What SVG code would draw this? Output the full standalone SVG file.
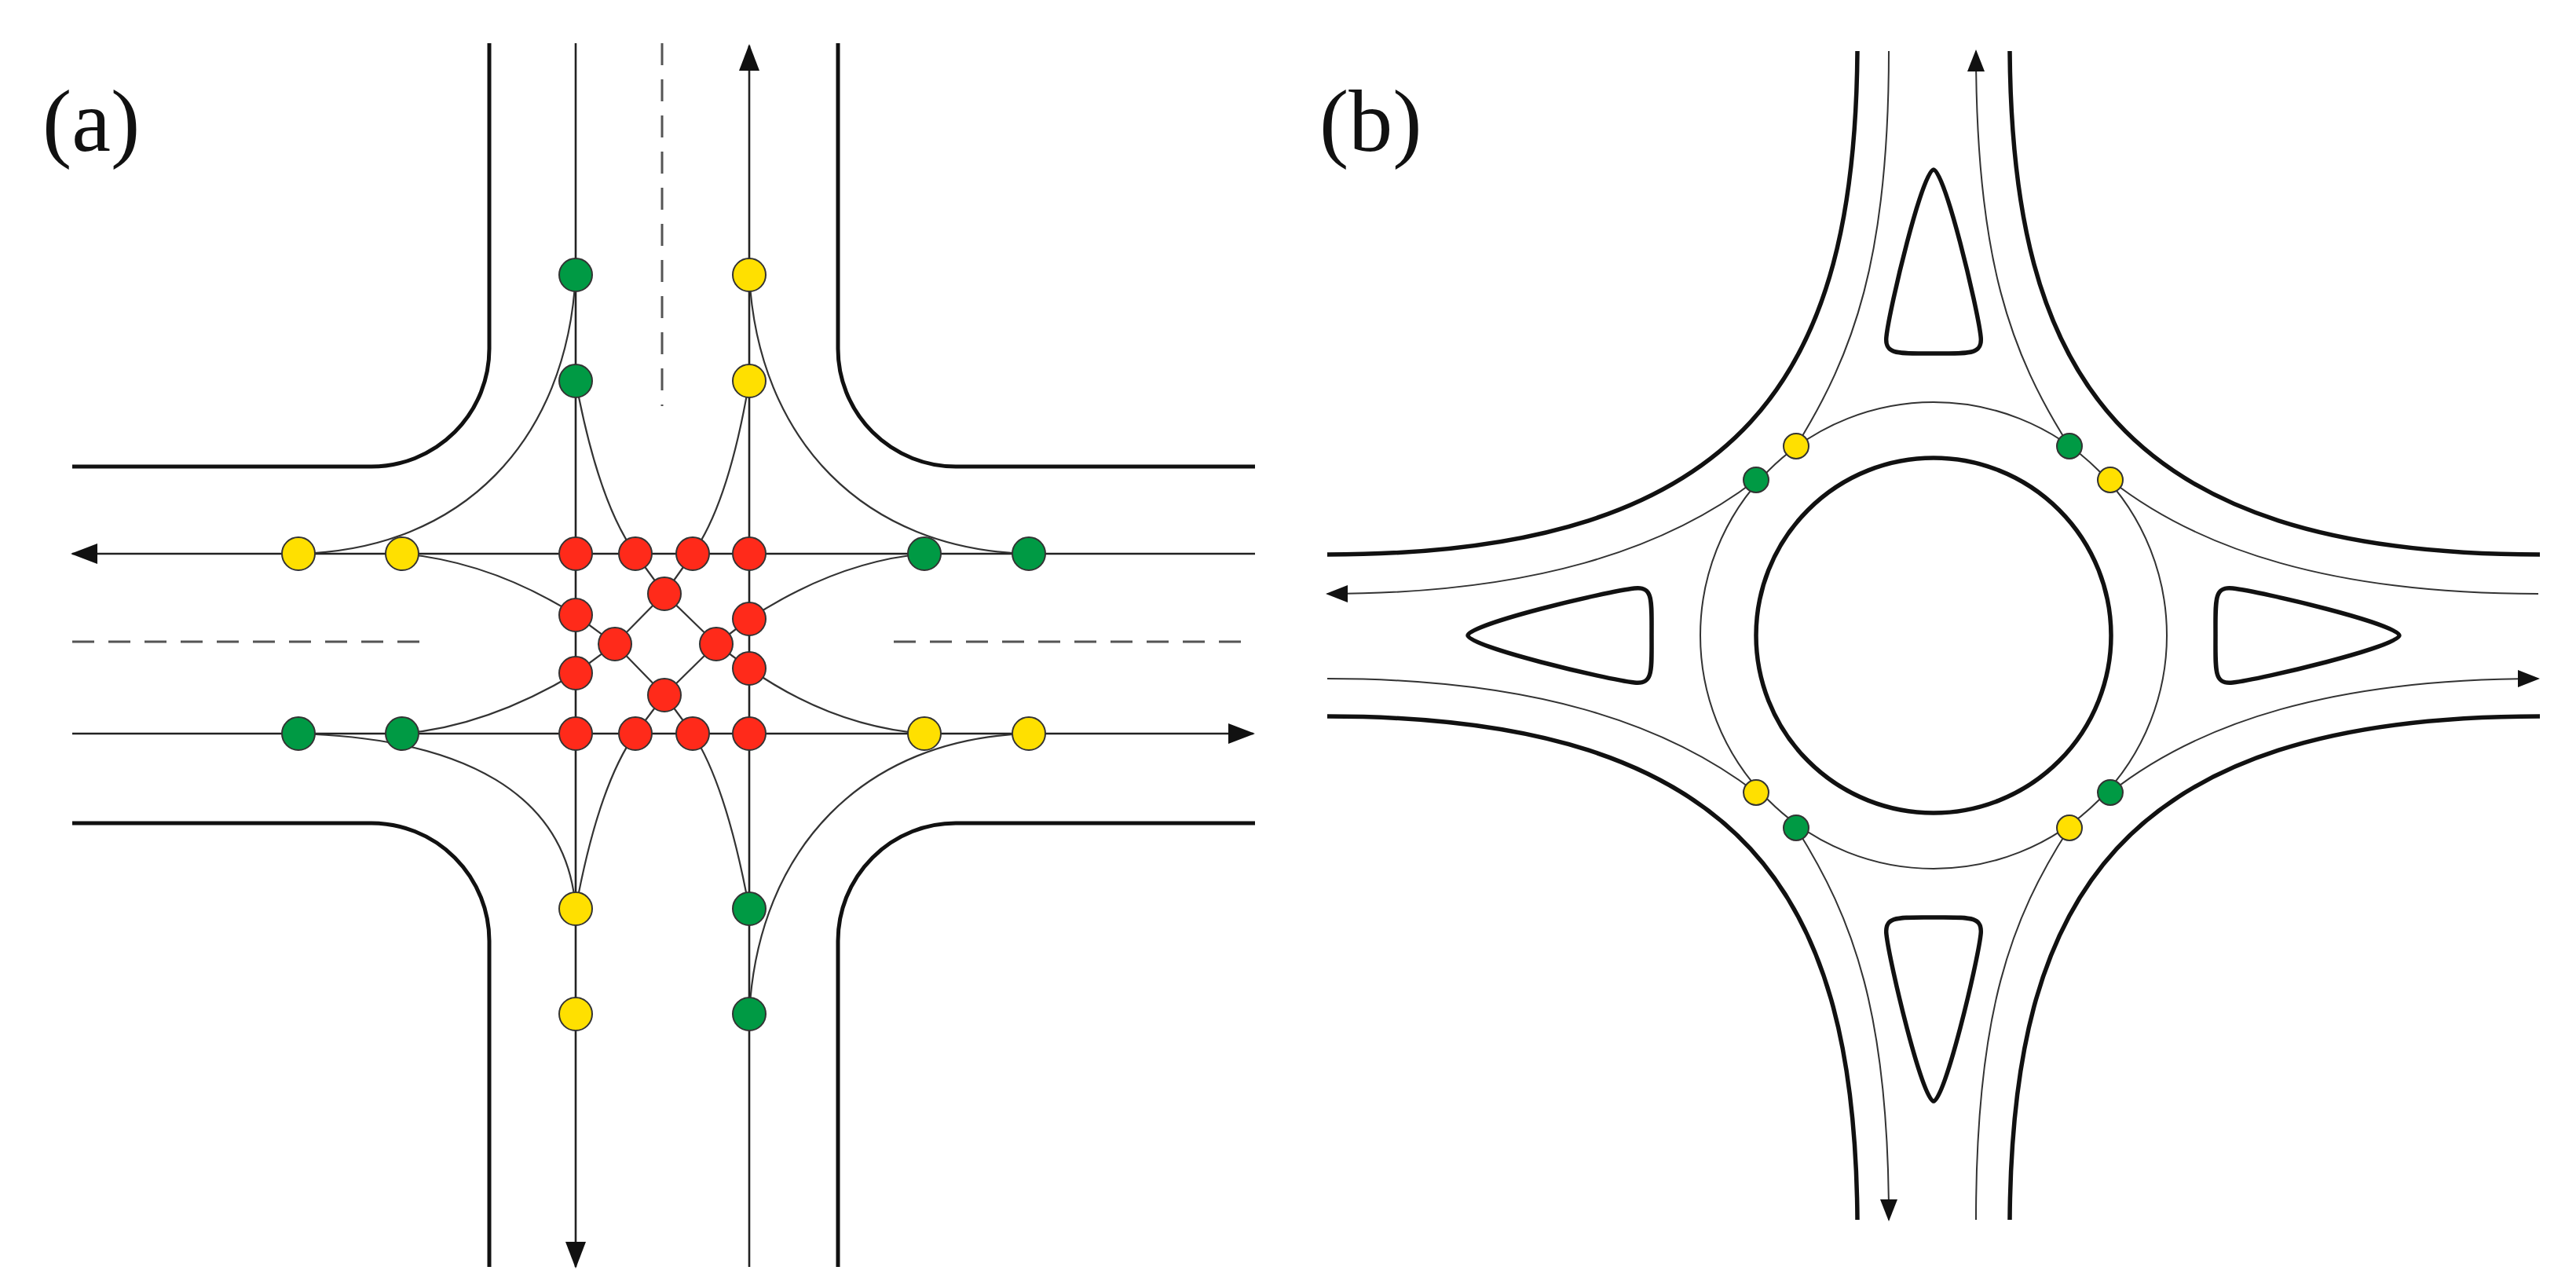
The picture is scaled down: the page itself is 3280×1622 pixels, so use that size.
<svg xmlns="http://www.w3.org/2000/svg" xmlns:xlink="http://www.w3.org/1999/xlink" width="3280" height="1622" viewBox="0 0 3280 1622">
<style>
.road{fill:none;stroke:#111;stroke-width:5}
.lane{fill:none;stroke:#222;stroke-width:2.6}
.turn{fill:none;stroke:#333;stroke-width:2.2}
.dash{fill:none;stroke:#555;stroke-width:3;stroke-dasharray:28 18}
.rroad{fill:none;stroke:#111;stroke-width:5.5}
.rlane{fill:none;stroke:#333;stroke-width:2}
.g{fill:#009a44;stroke:#333;stroke-width:2}
.y{fill:#ffe000;stroke:#333;stroke-width:2}
.r{fill:#ff2a1a;stroke:#333;stroke-width:2}
.lbl{font-family:"Liberation Serif",serif;font-size:112px;fill:#111}
</style>
<defs>
<marker id="ar" markerUnits="userSpaceOnUse" markerWidth="34" markerHeight="26" refX="32" refY="13" orient="auto"><path d="M0,0 L34,13 L0,26 Z" fill="#111"/></marker>
<marker id="ar2" markerUnits="userSpaceOnUse" markerWidth="28" markerHeight="22" refX="26" refY="11" orient="auto"><path d="M0,0 L28,11 L0,22 Z" fill="#111"/></marker>
<path id="island" class="rroad" d="M2462,216 C2476,216 2518,392 2522,428 C2525,452 2508,450 2462,450 C2416,450 2399,452 2402,428 C2406,392 2448,216 2462,216 Z"/>
<path id="qb" class="rroad" d="M2365,65 C2362,470 2230,706 1690,706"/>
</defs>
<rect width="3280" height="1622" fill="#fff"/>
<text class="lbl" x="54" y="192">(a)</text>
<text class="lbl" x="1680" y="192">(b)</text>
<g id="roads-a">
<path class="road" d="M623,55 V444 A150,150 0 0 1 473,594 H92"/>
<path class="road" d="M1067,55 V444 A150,150 0 0 0 1217,594 H1598"/>
<path class="road" d="M92,1048 H473 A150,150 0 0 1 623,1198 V1613"/>
<path class="road" d="M1598,1048 H1217 A150,150 0 0 0 1067,1198 V1613"/>
<path class="dash" d="M843,55 V517"/>
<path class="dash" d="M92,817 H549"/>
<path class="dash" d="M1138,817 H1598"/>
</g>
<g id="connectors-a">
<path class="lane" d="M733,55 V1613" marker-end="url(#ar)"/>
<path class="lane" d="M954,1613 V58" marker-end="url(#ar)"/>
<path class="lane" d="M1598,705 H92" marker-end="url(#ar)"/>
<path class="lane" d="M92,934 H1596" marker-end="url(#ar)"/>
<path class="turn" d="M733,485 Q762,640 809,705 L846,756 L912,820 L954,851 Q1060,925 1177,934"/>
<path class="turn" d="M512,934 Q620,925 733,857 L783,820 L846,756 L882,705 Q928,640 954,485"/>
<path class="turn" d="M954,1157 Q925,1000 882,934 L846,885 L783,820 L733,783 Q625,715 512,705"/>
<path class="turn" d="M1177,705 Q1065,715 954,788 L912,820 L846,885 L809,934 Q762,1000 733,1157"/>
<path class="turn" d="M733,350 C722,560 590,700 380,705"/>
<path class="turn" d="M380,934 C590,940 722,1010 733,1157"/>
<path class="turn" d="M954,1291 C965,1080 1100,940 1310,934"/>
<path class="turn" d="M1310,705 C1100,700 965,560 954,350"/>
</g>
<g id="nodes-a">
<circle class="g" cx="733" cy="350" r="21"/><circle class="g" cx="733" cy="485" r="21"/>
<circle class="y" cx="954" cy="350" r="21"/><circle class="y" cx="954" cy="485" r="21"/>
<circle class="y" cx="380" cy="705" r="21"/><circle class="y" cx="512" cy="705" r="21"/>
<circle class="g" cx="1177" cy="705" r="21"/><circle class="g" cx="1310" cy="705" r="21"/>
<circle class="g" cx="380" cy="934" r="21"/><circle class="g" cx="512" cy="934" r="21"/>
<circle class="y" cx="1177" cy="934" r="21"/><circle class="y" cx="1310" cy="934" r="21"/>
<circle class="y" cx="733" cy="1157" r="21"/><circle class="y" cx="733" cy="1291" r="21"/>
<circle class="g" cx="954" cy="1157" r="21"/><circle class="g" cx="954" cy="1291" r="21"/>
<circle class="r" cx="733" cy="705" r="21"/><circle class="r" cx="809" cy="705" r="21"/>
<circle class="r" cx="882" cy="705" r="21"/><circle class="r" cx="954" cy="705" r="21"/>
<circle class="r" cx="733" cy="934" r="21"/><circle class="r" cx="809" cy="934" r="21"/>
<circle class="r" cx="882" cy="934" r="21"/><circle class="r" cx="954" cy="934" r="21"/>
<circle class="r" cx="846" cy="756" r="21"/><circle class="r" cx="846" cy="885" r="21"/>
<circle class="r" cx="783" cy="820" r="21"/><circle class="r" cx="912" cy="820" r="21"/>
<circle class="r" cx="733" cy="783" r="21"/><circle class="r" cx="733" cy="857" r="21"/>
<circle class="r" cx="954" cy="788" r="21"/><circle class="r" cx="954" cy="851" r="21"/>
</g>
<g id="roads-b">
<use xlink:href="#qb"/>
<use xlink:href="#qb" transform="translate(4924,0) scale(-1,1)"/>
<use xlink:href="#qb" transform="translate(0,1618) scale(1,-1)"/>
<use xlink:href="#qb" transform="translate(4924,1618) scale(-1,-1)"/>
<circle class="rroad" cx="2462" cy="809" r="226"/>
<use xlink:href="#island"/>
<use xlink:href="#island" transform="rotate(90,2462,809)"/>
<use xlink:href="#island" transform="rotate(180,2462,809)"/>
<use xlink:href="#island" transform="rotate(270,2462,809)"/>
</g>
<g id="connectors-b">
<circle class="rlane" cx="2462" cy="809" r="297"/>
<path class="rlane" d="M2405,65 C2405,330 2360,450 2287,568"/>
<path class="rlane" d="M2236,611 C2120,700 1950,756 1690,756" marker-end="url(#ar2)"/>
<path class="rlane" d="M1690,864 C1950,864 2120,920 2236,1009"/>
<path class="rlane" d="M2287,1054 C2360,1170 2405,1290 2405,1553" marker-end="url(#ar2)"/>
<path class="rlane" d="M2516,1553 C2516,1290 2560,1170 2635,1054"/>
<path class="rlane" d="M2687,1009 C2800,920 2970,864 3232,864" marker-end="url(#ar2)"/>
<path class="rlane" d="M3232,756 C2970,756 2800,700 2687,611"/>
<path class="rlane" d="M2635,568 C2560,450 2516,330 2516,65" marker-end="url(#ar2)"/>
</g>
<g id="nodes-b">
<circle class="y" cx="2287" cy="568" r="16"/><circle class="g" cx="2236" cy="611" r="16"/>
<circle class="g" cx="2635" cy="568" r="16"/><circle class="y" cx="2687" cy="611" r="16"/>
<circle class="y" cx="2236" cy="1009" r="16"/><circle class="g" cx="2287" cy="1054" r="16"/>
<circle class="g" cx="2687" cy="1009" r="16"/><circle class="y" cx="2635" cy="1054" r="16"/>
</g>
</svg>
